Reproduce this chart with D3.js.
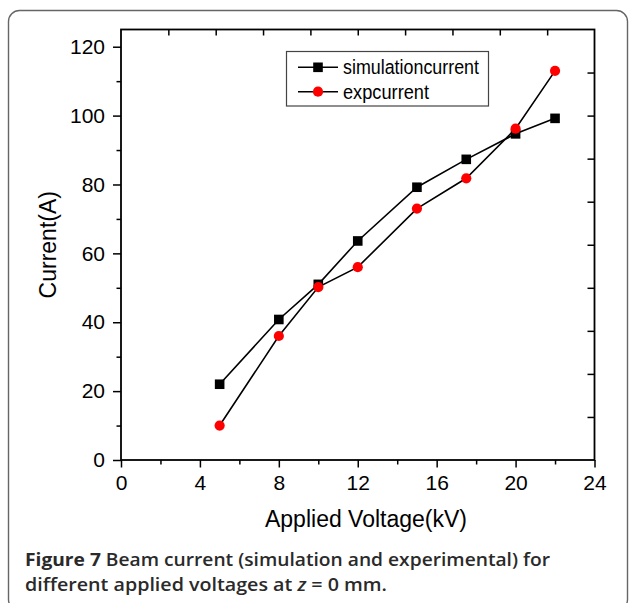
<!DOCTYPE html>
<html><head><meta charset="utf-8">
<script src="https://cdn.jsdelivr.net/npm/d3@7"></script>
<style>
html,body{margin:0;padding:0;background:#fff;}
svg{display:block;}
</style></head>
<body>
<svg id="chart" width="629" height="603"></svg>
<script>
// ---- data ----
const voltages = [5, 8, 10, 12, 15, 17.5, 20, 22];
const simulationCurrent = [22, 40.8, 51, 63.6, 79.2, 87.3, 94.7, 99.2];
const expCurrent = [10, 36, 50.2, 56, 73, 81.8, 96.2, 113];
const seriesNames = ["simulationcurrent", "expcurrent"];
const xMajorTicks = [0, 4, 8, 12, 16, 20, 24];
const xMinorTicks = [2, 6, 10, 14, 18, 22];
const yMajorTicks = [0, 20, 40, 60, 80, 100, 120];
const yMinorTicks = [10, 30, 50, 70, 90, 110];
const xTopTicks = [2.4, 4.8, 7.2, 9.6, 12, 14.4, 16.8, 19.2, 21.6];
const yRightTicks = [12.5, 25, 37.5, 50, 62.5, 75, 87.5, 100, 112.5];
const xLabel = "Applied Voltage(kV)";
const yLabel = "Current(A)";

const svg = d3.select("#chart");
const L = 121, R = 594.5, T = 29.5, B = 460;
const x = d3.scaleLinear().domain([0, 24]).range([L, R]);
const y = d3.scaleLinear().domain([0, 125]).range([B, T]);
const tickFont = "Liberation Sans, Arial, sans-serif";

// outer frame
svg.append("rect").attr("x", 8.5).attr("y", 10.5).attr("width", 619).attr("height", 600)
  .attr("rx", 11).attr("fill", "none").attr("stroke", "#666").attr("stroke-width", 1.4);

function styleAxis(g) {
  g.select(".domain").remove();
  g.selectAll(".tick line").attr("stroke", "#000").attr("stroke-width", 1.5);
  g.selectAll(".tick text").attr("font-family", tickFont).attr("font-size", 21).attr("fill", "#000");
}

// bottom axis
svg.append("g").attr("transform", `translate(0,${B})`)
  .call(d3.axisBottom(x).tickValues(xMajorTicks).tickSize(7.5).tickPadding(8).tickFormat(d3.format("d")))
  .call(styleAxis);
svg.append("g").attr("transform", `translate(0,${B})`)
  .call(d3.axisBottom(x).tickValues(xMinorTicks).tickSize(4.5).tickFormat(""))
  .call(styleAxis);
// left axis
svg.append("g").attr("transform", `translate(${L},0)`)
  .call(d3.axisLeft(y).tickValues(yMajorTicks).tickSize(8).tickPadding(8).tickFormat(d3.format("d")))
  .call(styleAxis);
svg.append("g").attr("transform", `translate(${L},0)`)
  .call(d3.axisLeft(y).tickValues(yMinorTicks).tickSize(4.5).tickFormat(""))
  .call(styleAxis);
// top axis (inward ticks)
svg.append("g").attr("transform", `translate(0,${T})`)
  .call(d3.axisTop(x).tickValues(xTopTicks).tickSize(-6).tickFormat(""))
  .call(styleAxis);
// right axis (inward ticks)
svg.append("g").attr("transform", `translate(${R},0)`)
  .call(d3.axisRight(y).tickValues(yRightTicks).tickSize(-7).tickFormat(""))
  .call(styleAxis);

// plot border
svg.append("rect").attr("x", L).attr("y", T).attr("width", R - L).attr("height", B - T)
  .attr("fill", "none").attr("stroke", "#000").attr("stroke-width", 1.8);

// axis labels
svg.append("text").attr("x", 366).attr("y", 527).attr("text-anchor", "middle")
  .attr("font-family", tickFont).attr("font-size", 23).text(xLabel);
svg.append("text").attr("transform", `translate(56,${(T + B) / 2}) rotate(-90)`).attr("text-anchor", "middle")
  .attr("font-family", tickFont).attr("font-size", 23).text(yLabel);

// series
const line = d3.line().x(d => x(d[0])).y(d => y(d[1]));
const simData = voltages.map((v, i) => [v, simulationCurrent[i]]);
const expData = voltages.map((v, i) => [v, expCurrent[i]]);

svg.append("path").datum(simData).attr("d", line).attr("fill", "none").attr("stroke", "#000").attr("stroke-width", 1.6);
svg.append("path").datum(expData).attr("d", line).attr("fill", "none").attr("stroke", "#000").attr("stroke-width", 1.6);
const sq = 9.6;
svg.selectAll(".sim").data(simData).enter().append("rect")
  .attr("x", d => x(d[0]) - sq / 2).attr("y", d => y(d[1]) - sq / 2)
  .attr("width", sq).attr("height", sq).attr("fill", "#000");
svg.selectAll(".exp").data(expData).enter().append("circle")
  .attr("cx", d => x(d[0])).attr("cy", d => y(d[1])).attr("r", 5.1).attr("fill", "#ff0000");

// legend
const lg = svg.append("g");
lg.append("rect").attr("x", 286.5).attr("y", 51.5).attr("width", 202).attr("height", 54.5)
  .attr("fill", "#fff").attr("stroke", "#444").attr("stroke-width", 1.2);
const rows = [67.3, 91.7];
rows.forEach((ry, i) => {
  lg.append("line").attr("x1", 298).attr("x2", 338).attr("y1", ry).attr("y2", ry)
    .attr("stroke", "#000").attr("stroke-width", 1.6);
  if (i === 0) {
    lg.append("rect").attr("x", 318 - sq / 2).attr("y", ry - sq / 2).attr("width", sq).attr("height", sq).attr("fill", "#000");
  } else {
    lg.append("circle").attr("cx", 318).attr("cy", ry).attr("r", 5.1).attr("fill", "#ff0000");
  }
  lg.append("text").attr("x", 343).attr("y", ry + 7).attr("font-family", "Liberation Sans Narrow, Arial Narrow, Liberation Sans, sans-serif")
    .attr("font-size", 20.5).attr("textLength", i === 0 ? 136 : 86).attr("lengthAdjust", "spacingAndGlyphs")
    .text(seriesNames[i]);
});

// caption
const capFont = "Open Sans, Noto Sans, sans-serif";
const c1 = svg.append("text").attr("x", 25).attr("y", 566).attr("font-family", capFont)
  .attr("font-size", 17.5).attr("fill", "#2a2a2a").attr("textLength", 525).attr("lengthAdjust", "spacingAndGlyphs");
c1.append("tspan").attr("font-weight", 700).text("Figure 7");
c1.append("tspan").attr("font-weight", 600).text(" Beam current (simulation and experimental) for");
const c2 = svg.append("text").attr("x", 25).attr("y", 591).attr("font-family", capFont)
  .attr("font-size", 17.5).attr("fill", "#2a2a2a").attr("font-weight", 600).attr("textLength", 362).attr("lengthAdjust", "spacingAndGlyphs");
c2.append("tspan").text("different applied voltages at ");
c2.append("tspan").attr("font-style", "italic").text("z");
c2.append("tspan").text(" = 0 mm.");
</script>
</body></html>
